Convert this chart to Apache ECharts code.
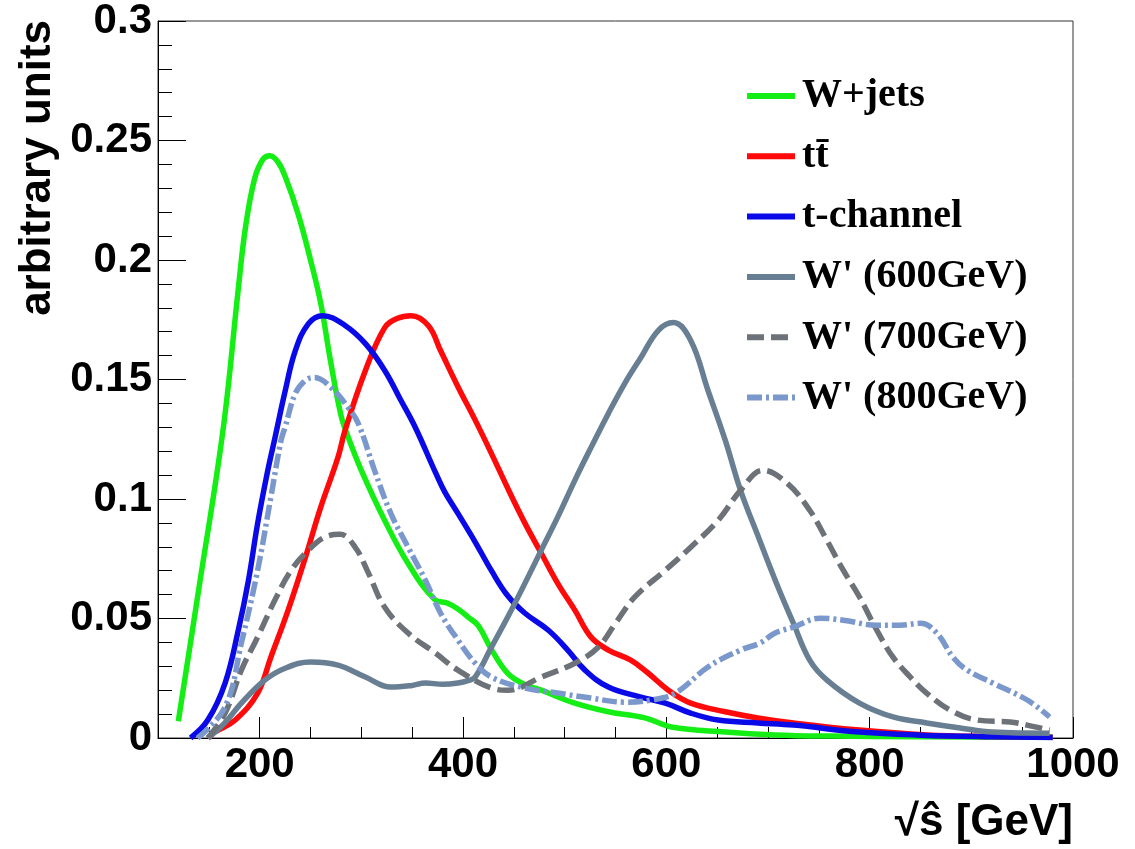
<!DOCTYPE html>
<html>
<head>
<meta charset="utf-8">
<script src="https://cdn.jsdelivr.net/npm/echarts@6/dist/echarts.min.js"></script>
<style>
  html, body { margin: 0; padding: 0; background: #fff; }
  #chart { width: 1135px; height: 849px; }
</style>
</head>
<body>
<div id="chart"></div>
<script>
// Normalised sqrt(s-hat) distributions, x in GeV
const seriesNames = ['W+jets', 't\u0074\u0304', 't-channel', "W' (600GeV)", "W' (700GeV)", "W' (800GeV)"];

const wjetsX = [120, 140, 164, 179, 186, 195, 203, 210, 218, 225, 238, 250, 260, 270, 280, 287, 300, 323, 346, 372, 385, 395, 405, 415, 428, 444, 460, 477, 510, 543, 579, 605, 658, 707, 760, 850, 980];
const wjetsY = [0.007, 0.062, 0.129, 0.188, 0.2135, 0.234, 0.242, 0.2436, 0.241, 0.235, 0.219, 0.2, 0.182, 0.157, 0.135, 0.126, 0.112, 0.091, 0.073, 0.058, 0.0564, 0.054, 0.0506, 0.047, 0.037, 0.027, 0.0225, 0.020, 0.0146, 0.011, 0.0084, 0.0046, 0.0025, 0.0013, 0.0008, 0.0005, 0.0003];

const ttbarX = [150, 156, 176, 198, 211, 228, 245, 260, 277, 284, 304, 323, 335, 349, 366, 378, 395, 412, 428, 444, 461, 477, 493, 510, 526, 543, 565, 582, 602, 624, 658, 690, 725, 790, 856, 920, 980];
const ttbarY = [0, 0.0025, 0.0075, 0.0188, 0.0338, 0.0535, 0.0756, 0.0965, 0.1174, 0.1287, 0.1538, 0.1717, 0.1755, 0.1767, 0.1725, 0.162, 0.147, 0.133, 0.119, 0.1045, 0.0898, 0.0773, 0.0648, 0.0535, 0.0422, 0.0368, 0.0326, 0.0272, 0.020, 0.0146, 0.011, 0.0084, 0.0063, 0.0033, 0.0013, 0.0006, 0.0003];

const tchanX = [132, 149, 166, 179, 189, 198, 208, 215, 225, 235, 248, 262, 284, 304, 323, 339, 353, 373, 382, 395, 412, 428, 444, 461, 484, 503, 520, 543, 575, 599, 624, 651, 690, 725, 790, 850, 920, 980];
const tchanY = [0, 0.0075, 0.023, 0.0451, 0.066, 0.0898, 0.112, 0.1255, 0.145, 0.162, 0.1734, 0.1767, 0.1726, 0.165, 0.1538, 0.1412, 0.13, 0.111, 0.103, 0.094, 0.082, 0.07, 0.0595, 0.0522, 0.0451, 0.0368, 0.0284, 0.0213, 0.0171, 0.0146, 0.0104, 0.0075, 0.0063, 0.0054, 0.0025, 0.0012, 0.0005, 0.0002];

const wp600X = [149, 165, 182, 205, 225, 250, 277, 304, 329, 350, 363, 380, 395, 405, 412, 428, 444, 461, 477, 493, 510, 526, 543, 559, 575, 592, 607, 624, 641, 658, 673, 690, 709, 725, 741, 758, 790, 823, 856, 889, 921, 977];
const wp600Y = [0, 0.006, 0.0146, 0.0242, 0.0292, 0.0318, 0.0305, 0.0255, 0.0213, 0.022, 0.023, 0.0225, 0.023, 0.024, 0.0255, 0.038, 0.0506, 0.0648, 0.0786, 0.0923, 0.1078, 0.1216, 0.1358, 0.1483, 0.1592, 0.1705, 0.1738, 0.1663, 0.1454, 0.1245, 0.1036, 0.0847, 0.064, 0.048, 0.0326, 0.0242, 0.0146, 0.0088, 0.0063, 0.0042, 0.0025, 0.002];

const wp700X = [149, 166, 182, 198, 215, 231, 248, 264, 279, 294, 307, 323, 346, 373, 395, 428, 444, 477, 510, 533, 550, 569, 599, 624, 651, 673, 695, 719, 741, 758, 774, 790, 807, 823, 840, 856, 879, 906, 938, 955, 977];
const wp700Y = [0, 0.0104, 0.0284, 0.0422, 0.0577, 0.0702, 0.0786, 0.084, 0.0852, 0.0798, 0.069, 0.0547, 0.0439, 0.0355, 0.0284, 0.0209, 0.020, 0.0255, 0.0313, 0.038, 0.048, 0.059, 0.0702, 0.0798, 0.0911, 0.1036, 0.112, 0.1065, 0.0953, 0.0827, 0.0702, 0.059, 0.0451, 0.0338, 0.0255, 0.0188, 0.0117, 0.0075, 0.0067, 0.0054, 0.0033];

const wp800X = [139, 166, 182, 198, 211, 221, 225, 235, 245, 254, 270, 287, 297, 313, 329, 346, 363, 378, 395, 412, 428, 461, 493, 526, 559, 585, 609, 641, 673, 692, 707, 725, 751, 774, 807, 830, 850, 866, 882, 896, 921, 955, 977];
const wp800Y = [0, 0.013, 0.0397, 0.0702, 0.1007, 0.1245, 0.13, 0.1441, 0.1496, 0.1508, 0.1467, 0.1383, 0.1316, 0.112, 0.094, 0.0798, 0.066, 0.0522, 0.041, 0.0313, 0.0255, 0.0209, 0.0188, 0.0167, 0.015, 0.0159, 0.0188, 0.0297, 0.0368, 0.0397, 0.0439, 0.0464, 0.0501, 0.0493, 0.0472, 0.0472, 0.048, 0.0439, 0.0338, 0.0284, 0.023, 0.0159, 0.0088];

const xMajorTicks = [200, 400, 600, 800, 1000];

const zip = (xs, ys) => xs.map((x, i) => [x, ys[i]]);

const curves = [
  { name: seriesNames[0], data: zip(wjetsX, wjetsY), color: '#14ee14', type: 'solid' },
  { name: seriesNames[1], data: zip(ttbarX, ttbarY), color: '#ff0a0a', type: 'solid' },
  { name: seriesNames[2], data: zip(tchanX, tchanY), color: '#0a0ae8', type: 'solid' },
  { name: seriesNames[3], data: zip(wp600X, wp600Y), color: '#687f93', type: 'solid' },
  { name: seriesNames[4], data: zip(wp700X, wp700Y), color: '#6c7278', type: [17, 7] },
  { name: seriesNames[5], data: zip(wp800X, wp800Y), color: '#7b98cc', type: [15, 4, 3, 4] }
];

const labelFont = { fontFamily: '"Liberation Sans", Arial, sans-serif', fontWeight: 'bold', fontSize: 42, color: '#000' };

const chart = echarts.init(document.getElementById('chart'), null, { renderer: 'canvas' });

chart.setOption({
  backgroundColor: '#fff',
  animation: false,
  grid: { left: 158, right: 62, top: 20, bottom: 111, show: true, borderColor: '#333', borderWidth: 1, backgroundColor: 'transparent' },
  legend: {
    orient: 'vertical',
    left: 744,
    top: 74,
    padding: 0,
    itemWidth: 48,
    itemHeight: 14,
    itemGap: 16.3,
    data: seriesNames,
    itemStyle: { opacity: 0, borderWidth: 0 },
    lineStyle: { width: 6 },
    textStyle: { fontFamily: '"Liberation Serif", "Times New Roman", serif', fontWeight: 'bold', fontSize: 40, color: '#000', lineHeight: 44, padding: [0, 0, 0, 2] }
  },
  xAxis: [
    {
      type: 'value', min: 100, max: 1000, position: 'bottom',
      axisLine: { show: true, onZero: false, lineStyle: { color: '#000', width: 1 } },
      axisTick: { show: true, inside: true, length: 21, customValues: xMajorTicks, lineStyle: { color: '#000', width: 1 } },
      axisLabel: { show: true, customValues: xMajorTicks, margin: 6, formatter: v => String(v), ...labelFont },
      splitLine: { show: false }
    },
    {
      type: 'value', min: 100, max: 1000, interval: 50, position: 'bottom',
      axisLine: { show: false },
      axisTick: { show: true, inside: true, length: 11, lineStyle: { color: '#000', width: 1 } },
      axisLabel: { show: false },
      splitLine: { show: false }
    }
  ],
  yAxis: {
    type: 'value', min: 0, max: 0.3, interval: 0.05,
    axisLine: { show: true, onZero: false, lineStyle: { color: '#000', width: 1 } },
    axisTick: { show: true, inside: true, length: 28, lineStyle: { color: '#000', width: 1 } },
    minorTick: { show: true, splitNumber: 5, length: 14, lineStyle: { color: '#000', width: 1 } },
    axisLabel: { margin: 6, ...labelFont },
    splitLine: { show: false }
  },
  graphic: [
    {
      type: 'text', x: 38, y: 20, rotation: Math.PI / 2,
      style: { text: 'arbitrary units', font: 'bold 44px "Liberation Sans", Arial, sans-serif', fill: '#000', align: 'right', verticalAlign: 'middle' }
    },
    {
      type: 'text', x: 1073, y: 823,
      style: { text: '\u221As\u0302 [GeV]', font: 'bold 44px "Liberation Sans", Arial, sans-serif', fill: '#000', align: 'right', verticalAlign: 'middle' }
    }
  ],
  series: curves.map(c => ({
    name: c.name,
    type: 'line',
    xAxisIndex: 0,
    data: c.data,
    smooth: 0.4,
    symbol: 'none',
    clip: true,
    color: c.color,
    lineStyle: { color: c.color, width: 5.5, type: c.type, cap: 'butt', join: 'round' }
  }))
});
</script>
</body>
</html>
